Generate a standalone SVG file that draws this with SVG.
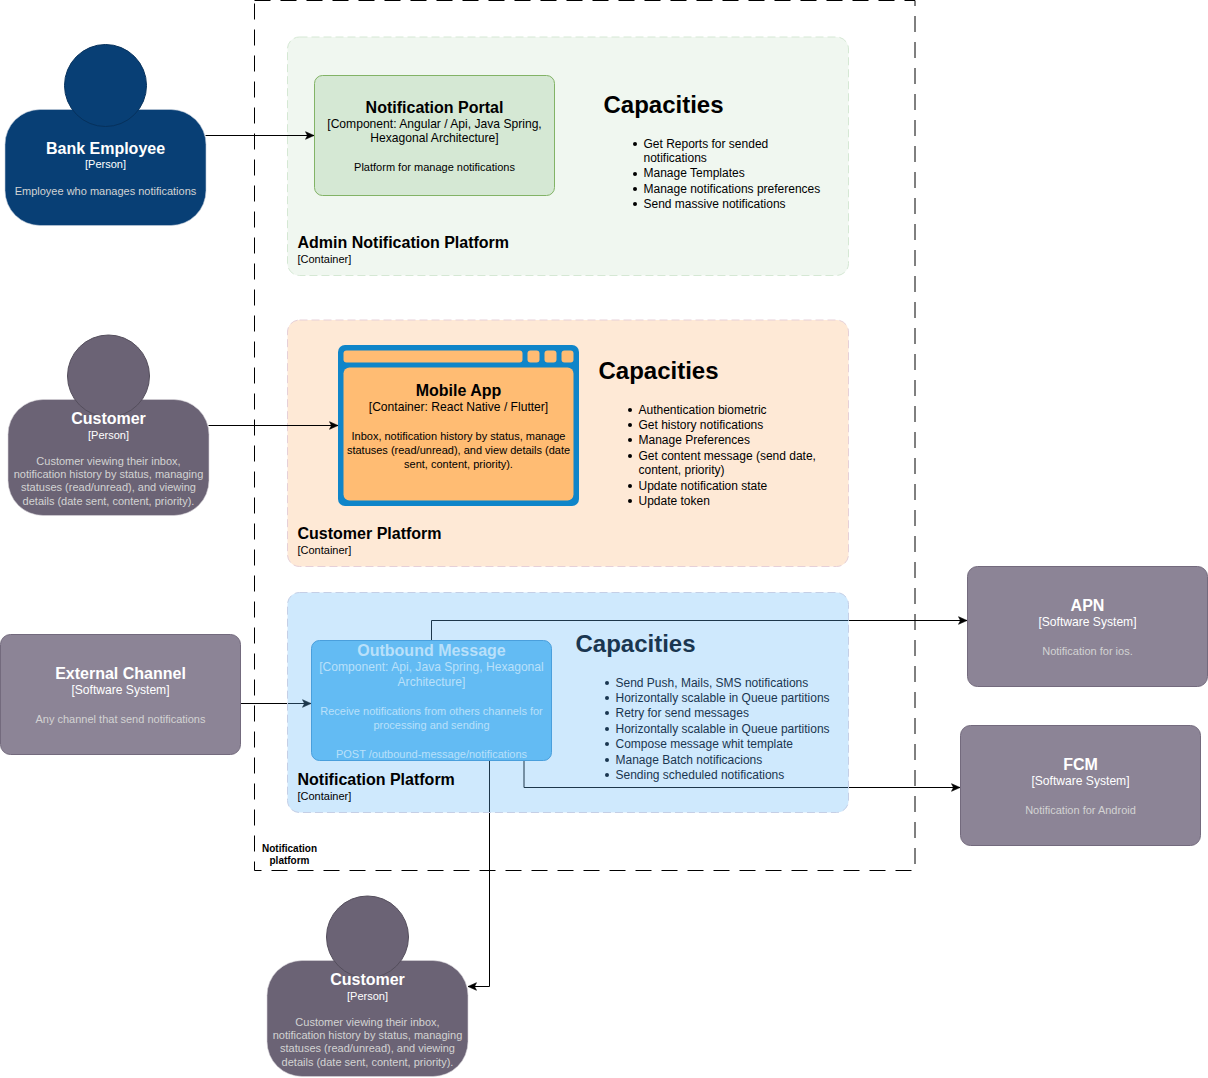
<svg xmlns="http://www.w3.org/2000/svg" width="1208" height="1078" viewBox="0 0 1208 1078">
<defs>
<marker id="arrow" markerUnits="userSpaceOnUse" markerWidth="10" markerHeight="10" refX="9" refY="5" orient="auto"><path d="M0.5 1.200L9 5L0.5 8.800L2.500 5Z" fill="#000" stroke="#000" stroke-width="0.6"/></marker>
</defs>
<style>
text{font-family:"Liberation Sans",Arial,sans-serif;text-anchor:middle}
.t{font-size:16px;font-weight:bold}
.s{font-size:12.100px}
.p{font-size:11px}
.d{font-size:11px}
.w{fill:#fff}
.g{fill:#d3d3d3}
.bl{fill:#b9e0fa}
.h{font-size:24px;font-weight:bold;text-anchor:start}
.b{font-size:12px;text-anchor:start}
.n{fill:#1a3650}
.pt{font-size:16px;font-weight:bold;text-anchor:start}
.ps{font-size:11px;text-anchor:start}
.conn{fill:none;stroke:#000;stroke-width:1;marker-end:url(#arrow)}
.pnl{stroke-dasharray:8 4;stroke-width:1}
</style>
<rect id="boundary" x="254.500" y="0.500" width="660.500" height="870" fill="none" stroke="#000" stroke-dasharray="16 10"/>
<g id="boundary-label"><text x="289.500" y="852" font-size="10px" font-weight="bold">Notification</text><text x="289.500" y="864" font-size="10px" font-weight="bold">platform</text></g>
<g id="admin-platform">
<rect class="pnl" x="287.500" y="37" width="561" height="238.500" rx="12" fill="#d5e8d4" fill-opacity="0.35" stroke="#d5e8d4"/>
<text class="pt" x="297.500" y="248">Admin Notification Platform</text>
<text class="ps" x="297.500" y="263">[Container]</text>
</g>
<g id="customer-platform">
<rect class="pnl" x="287.500" y="320" width="561" height="246.500" rx="12" fill="#fee9d6" stroke="#e6d0d8"/>
<text class="pt" x="297.500" y="539">Customer Platform</text>
<text class="ps" x="297.500" y="554">[Container]</text>
</g>
<g id="connectors">
<path class="conn" d="M205.500 135.500H314"/>
<path class="conn" d="M208.500 425.500H338"/>
<path class="conn" d="M240.500 703.500H311"/>
<path class="conn" d="M431.500 640V620.500H967"/>
<path class="conn" d="M524 760V787.500H960"/>
<path class="conn" d="M489.500 760V986.500H468"/>
</g>
<g id="notification-platform">
<rect class="pnl" x="287.500" y="592.500" width="561" height="220" rx="12" fill="#5fb6f8" fill-opacity="0.3" stroke="#c5cfe6"/>
<text class="pt" x="297.500" y="785">Notification Platform</text>
<text class="ps" x="297.500" y="800">[Container]</text>
</g>
<g id="bank-employee">
<rect x="5" y="109.500" width="201" height="116" rx="35" fill="#083f75" stroke="#c4cfdb" stroke-width="0.6"/>
<circle cx="105.500" cy="85.500" r="41" fill="#083f75" stroke="#06315c"/>
<text class="t w" x="105.500" y="154">Bank Employee</text>
<text class="p w" x="105.500" y="168">[Person]</text>
<text class="d g" x="105.500" y="195">Employee who manages notifications</text>
</g>
<g id="notification-portal">
<rect x="314.500" y="75.500" width="240" height="120" rx="8" fill="#d5e8d4" stroke="#82b366"/>
<text class="t" x="434.500" y="113">Notification Portal</text>
<text class="s" x="434.500" y="128">[Component: Angular / Api, Java Spring,</text>
<text class="s" x="434.500" y="142">Hexagonal Architecture]</text>
<text class="d" x="434.500" y="171">Platform for manage notifications</text>
</g>
<g id="capacities-admin">
<text class="h" x="603.500" y="113">Capacities</text>
<circle cx="635" cy="144" r="2"/><circle cx="635" cy="174" r="2"/><circle cx="635" cy="189" r="2"/><circle cx="635" cy="204" r="2"/>
<text class="b" x="643.500" y="148">Get Reports for sended</text>
<text class="b" x="643.500" y="162">notifications</text>
<text class="b" x="643.500" y="177">Manage Templates</text>
<text class="b" x="643.500" y="193">Manage notifications preferences</text>
<text class="b" x="643.500" y="208">Send massive notifications</text>
</g>
<g id="customer-1">
<rect x="8" y="399.500" width="201" height="116" rx="35" fill="#6b6375" stroke="#d8d5da" stroke-width="0.6"/>
<circle cx="108.500" cy="376" r="41" fill="#6b6375" stroke="#544e5c"/>
<text class="t w" x="108.500" y="424">Customer</text>
<text class="p w" x="108.500" y="439">[Person]</text>
<text class="d g" x="108.500" y="465">Customer viewing their inbox,</text>
<text class="d g" x="108.500" y="478">notification history by status, managing</text>
<text class="d g" x="108.500" y="491">statuses (read/unread), and viewing</text>
<text class="d g" x="108.500" y="505">details (date sent, content, priority).</text>
</g>
<g id="mobile-app">
<rect x="338" y="345" width="241" height="161" rx="7" fill="#0f85c9"/>
<rect x="343.500" y="350.500" width="179" height="12" rx="3" fill="#ffbc73"/>
<rect x="527.500" y="350.500" width="12" height="12" rx="3" fill="#ffbc73"/>
<rect x="544.500" y="350.500" width="12" height="12" rx="3" fill="#ffbc73"/>
<rect x="561.500" y="350.500" width="12" height="12" rx="3" fill="#ffbc73"/>
<rect x="343.500" y="367.500" width="230" height="133" rx="6" fill="#ffbc73"/>
<text class="t" x="458.500" y="396">Mobile App</text>
<text class="s" x="458.500" y="411">[Container: React Native / Flutter]</text>
<text class="d" x="458.500" y="440">Inbox, notification history by status, manage</text>
<text class="d" x="458.500" y="454">statuses (read/unread), and view details (date</text>
<text class="d" x="458.500" y="468">sent, content, priority).</text>
</g>
<g id="capacities-customer">
<text class="h" x="598.500" y="379">Capacities</text>
<circle cx="630" cy="410" r="2"/><circle cx="630" cy="425" r="2"/><circle cx="630" cy="440" r="2"/><circle cx="630" cy="456" r="2"/><circle cx="630" cy="486" r="2"/><circle cx="630" cy="501" r="2"/>
<text class="b" x="638.500" y="414">Authentication biometric</text>
<text class="b" x="638.500" y="429">Get history notifications</text>
<text class="b" x="638.500" y="444">Manage Preferences</text>
<text class="b" x="638.500" y="460">Get content message (send date,</text>
<text class="b" x="638.500" y="474">content, priority)</text>
<text class="b" x="638.500" y="490">Update notification state</text>
<text class="b" x="638.500" y="505">Update token</text>
</g>
<g id="external-channel">
<rect x="0.500" y="634.500" width="240" height="120" rx="10" fill="#8c8496" stroke="#736a7d"/>
<text class="t w" x="120.500" y="679">External Channel</text>
<text class="s w" x="120.500" y="694">[Software System]</text>
<text class="d g" x="120.500" y="723">Any channel that send notifications</text>
</g>
<g id="outbound-message">
<rect x="311.500" y="640.500" width="240" height="120" rx="8" fill="#63bbf3" stroke="#4a9fdc"/>
<text class="t bl" x="431.500" y="656">Outbound Message</text>
<text class="s bl" x="431.500" y="671">[Component: Api, Java Spring, Hexagonal</text>
<text class="s bl" x="431.500" y="686">Architecture]</text>
<text class="d bl" x="431.500" y="715">Receive notifications from others channels for</text>
<text class="d bl" x="431.500" y="729">processing and sending</text>
<text class="d bl" x="431.500" y="758">POST /outbound-message/notifications</text>
</g>
<g id="capacities-notification">
<text class="h n" x="575.500" y="652">Capacities</text>
<g class="n"><circle cx="607" cy="683" r="2"/><circle cx="607" cy="698" r="2"/><circle cx="607" cy="713" r="2"/><circle cx="607" cy="729" r="2"/><circle cx="607" cy="744" r="2"/><circle cx="607" cy="760" r="2"/><circle cx="607" cy="775" r="2"/></g>
<text class="b n" x="615.500" y="687">Send Push, Mails, SMS notifications</text>
<text class="b n" x="615.500" y="702">Horizontally scalable in Queue partitions</text>
<text class="b n" x="615.500" y="717">Retry for send messages</text>
<text class="b n" x="615.500" y="733">Horizontally scalable in Queue partitions</text>
<text class="b n" x="615.500" y="748">Compose message whit template</text>
<text class="b n" x="615.500" y="764">Manage Batch notificacions</text>
<text class="b n" x="615.500" y="779">Sending scheduled notifications</text>
</g>
<g id="apn">
<rect x="967.500" y="566.500" width="240" height="120" rx="10" fill="#8c8496" stroke="#736a7d"/>
<text class="t w" x="1087.500" y="611">APN</text>
<text class="s w" x="1087.500" y="626">[Software System]</text>
<text class="d g" x="1087.500" y="655">Notification for ios.</text>
</g>
<g id="fcm">
<rect x="960.500" y="725.500" width="240" height="120" rx="10" fill="#8c8496" stroke="#736a7d"/>
<text class="t w" x="1080.500" y="770">FCM</text>
<text class="s w" x="1080.500" y="785">[Software System]</text>
<text class="d g" x="1080.500" y="814">Notification for Android</text>
</g>
<g id="customer-2">
<rect x="267" y="960.500" width="201" height="116" rx="35" fill="#6b6375" stroke="#d8d5da" stroke-width="0.6"/>
<circle cx="367.500" cy="937" r="41" fill="#6b6375" stroke="#544e5c"/>
<text class="t w" x="367.500" y="985">Customer</text>
<text class="p w" x="367.500" y="1000">[Person]</text>
<text class="d g" x="367.500" y="1026">Customer viewing their inbox,</text>
<text class="d g" x="367.500" y="1039">notification history by status, managing</text>
<text class="d g" x="367.500" y="1052">statuses (read/unread), and viewing</text>
<text class="d g" x="367.500" y="1066">details (date sent, content, priority).</text>
</g>
</svg>
